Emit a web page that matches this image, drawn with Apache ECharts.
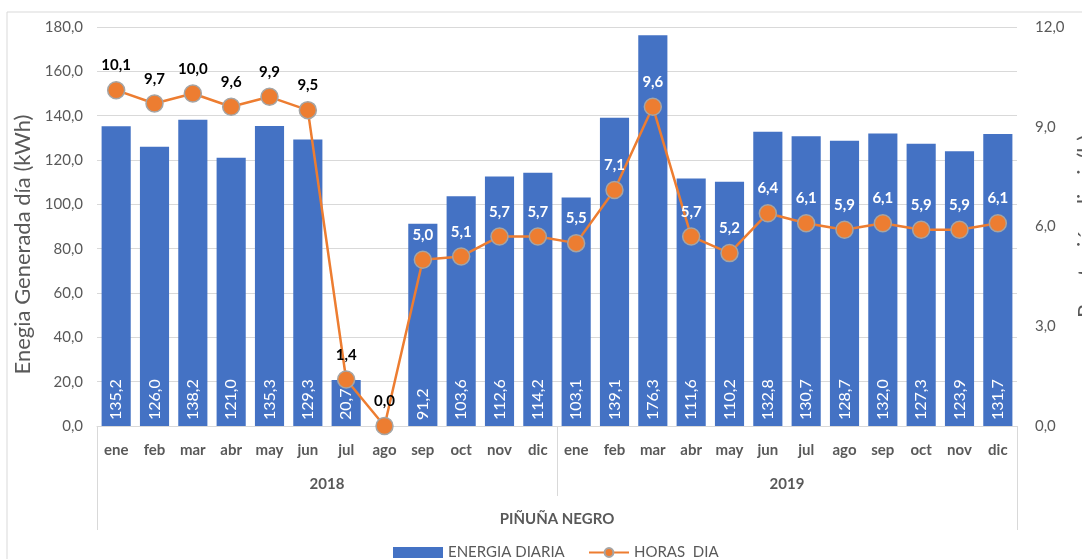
<!DOCTYPE html>
<html>
<head>
<meta charset="utf-8">
<script src="https://cdn.jsdelivr.net/npm/echarts@6/dist/echarts.min.js"></script>
<style>
  html, body { margin: 0; padding: 0; background: #fff; }
  #chart { width: 1082px; height: 559px; }
</style>
</head>
<body>
<div id="chart"></div>
<script>
// datos
const months = ["ene", "feb", "mar", "abr", "may", "jun", "jul", "ago", "sep", "oct", "nov", "dic",
                "ene", "feb", "mar", "abr", "may", "jun", "jul", "ago", "sep", "oct", "nov", "dic"];
const years = ["2018", "2019"];
const site = ["PIÑUÑA NEGRO"];
const energia = [135.2, 126.0, 138.2, 121.0, 135.3, 129.3, 20.7, null, 91.2, 103.6, 112.6, 114.2,
                 103.1, 139.1, 176.3, 111.6, 110.2, 132.8, 130.7, 128.7, 132.0, 127.3, 123.9, 131.7];
const horas = [10.1, 9.7, 10.0, 9.6, 9.9, 9.5, 1.4, 0.0, 5.0, 5.1, 5.7, 5.7,
               5.5, 7.1, 9.6, 5.7, 5.2, 6.4, 6.1, 5.9, 6.1, 5.9, 5.9, 6.1];

const FONT = "Lato, 'Open Sans', sans-serif";
const GRAY = "#595959";
const fmt = v => Number(v).toFixed(1).replace(".", ",");

let chart = echarts.init(document.getElementById("chart"));

// etiqueta blanca si el punto cae dentro de la barra
let horasData = horas.map((h, i) => {
    let inside = energia[i] != null && h * 15 < energia[i] - 5;
    return { value: h, label: { color: inside ? "#ffffff" : "#000000" } };
});

let legendText = { color: GRAY, fontSize: 15, fontFamily: FONT };

let option = {
    textStyle: { fontFamily: FONT },
    animation: false,
    graphic: [{
        type: "rect",
        shape: { x: 7, y: 12, width: 1100, height: 560 },
        style: { fill: "none", stroke: "#d9d9d9", lineWidth: 1 }
    }],
    grid: { left: 97, right: 65, top: 27, bottom: 133, containLabel: false, outerBoundsMode: "none" },
    legend: [{
        left: 388,
        top: 540,
        itemWidth: 50,
        itemHeight: 11,
        textStyle: legendText,
        data: [{ name: "ENERGIA DIARIA", icon: "rect" }]
    }, {
        left: 583,
        top: 540,
        itemWidth: 40,
        itemHeight: 11,
        textStyle: legendText,
        data: [{ name: "HORAS  DIA" }]
    }],
    xAxis: [{
        type: "category",
        data: months,
        position: "bottom",
        axisLine: { onZero: false, lineStyle: { color: "#d9d9d9" } },
        axisTick: { show: false },
        axisLabel: { interval: 0, color: GRAY, fontWeight: "bold", fontSize: 15, margin: 17, fontFamily: FONT }
    }, {
        type: "category",
        data: years,
        position: "bottom",
        axisLine: { show: false, onZero: false },
        axisTick: { show: true, length: 70, interval: 0, lineStyle: { color: "#d9d9d9" } },
        axisLabel: { interval: 0, color: GRAY, fontWeight: "bold", fontSize: 15, margin: 51, fontFamily: FONT }
    }, {
        type: "category",
        data: site,
        position: "bottom",
        axisLine: { show: false, onZero: false },
        axisTick: { show: true, length: 104, interval: 0, lineStyle: { color: "#d9d9d9" } },
        axisLabel: { interval: 0, color: GRAY, fontWeight: "bold", fontSize: 15, margin: 86, fontFamily: FONT }
    }],
    yAxis: [{
        type: "value",
        min: 0,
        max: 180,
        interval: 20,
        name: "Enegia Generada día (kWh)",
        nameLocation: "middle",
        nameGap: 59,
        nameTextStyle: { color: GRAY, fontSize: 22, fontFamily: FONT, padding: [0, 36, 0, 0] },
        axisLine: { show: false },
        axisTick: { show: false },
        axisLabel: { color: GRAY, fontSize: 15, margin: 14, formatter: fmt },
        splitLine: { lineStyle: { color: "#d9d9d9" } }
    }, {
        type: "value",
        min: 0,
        max: 12,
        interval: 3,
        name: "Prestación diaria(h)",
        nameLocation: "middle",
        nameRotate: 90,
        nameGap: 50,
        nameTextStyle: { color: GRAY, fontSize: 22, fontFamily: FONT },
        axisLine: { show: false },
        axisTick: { show: false },
        axisLabel: { color: GRAY, fontSize: 15, margin: 18, formatter: fmt },
        splitLine: { show: false }
    }],
    series: [{
        name: "ENERGIA DIARIA",
        type: "bar",
        xAxisIndex: 0,
        yAxisIndex: 0,
        data: energia,
        barCategoryGap: "24%",
        itemStyle: { color: "#4472c4" },
        label: {
            show: true,
            position: "insideBottom",
            rotate: 90,
            align: "left",
            verticalAlign: "middle",
            distance: 6,
            color: "#ffffff",
            fontSize: 16,
            fontFamily: FONT,
            formatter: p => fmt(p.value)
        }
    }, {
        name: "HORAS  DIA",
        type: "line",
        xAxisIndex: 0,
        yAxisIndex: 1,
        data: horasData,
        symbol: "circle",
        symbolSize: 17,
        lineStyle: { color: "#ed7d31", width: 2.5 },
        itemStyle: { color: "#ed7d31", borderColor: "#a5a5a5", borderWidth: 1.5 },
        label: {
            show: true,
            position: "top",
            distance: 8,
            fontWeight: "bold",
            fontSize: 15,
            fontFamily: FONT,
            formatter: p => fmt(p.value)
        }
    }]
};
chart.setOption(option);

window.addEventListener("resize", () => {
    chart.resize();
});
</script>
</body>
</html>
